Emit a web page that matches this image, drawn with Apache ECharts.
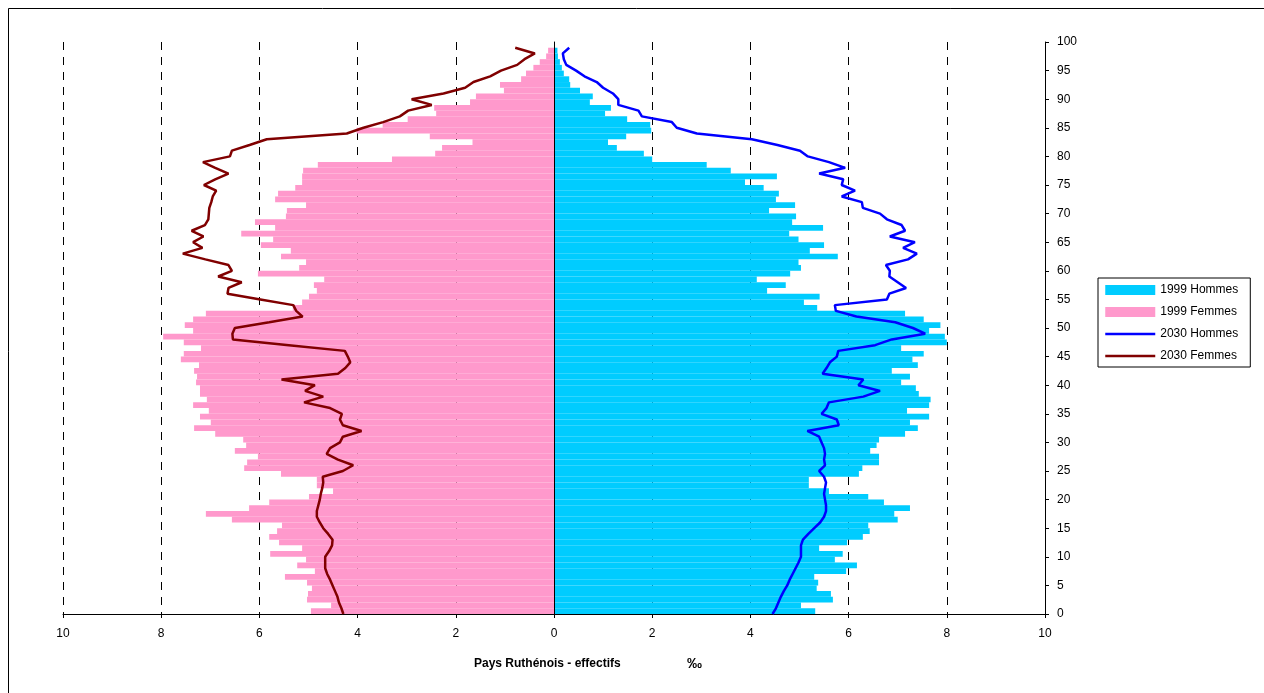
<!DOCTYPE html>
<html>
<head>
<meta charset="utf-8">
<title>Pays Ruthénois - pyramide des âges</title>
<script src="https://cdn.jsdelivr.net/npm/echarts@6/dist/echarts.min.js"></script>
<style>
  html, body { margin: 0; padding: 0; background: #fff; }
  #chart { width: 1264px; height: 693px; }
</style>
</head>
<body>
<div id="chart"></div>
<script>
// Ages 0 to 99 (one bar per year of age)
const ages = Array.from({ length: 100 }, (_, i) => i);

// 1999 population per year of age, per mille
const hommes1999 = [
  5.32, 5.03, 5.68, 5.64, 5.35, 5.38, 5.30, 5.95, 6.17, 5.72,
  5.88, 5.40, 5.97, 6.29, 6.43, 6.40, 7.00, 6.93, 7.25, 6.72,
  6.40, 5.60, 5.19, 5.19, 6.21, 6.28, 6.62, 6.62, 6.44, 6.57,
  6.62, 7.15, 7.41, 7.25, 7.64, 7.19, 7.64, 7.67, 7.43, 7.37,
  7.07, 7.25, 6.88, 7.41, 7.30, 7.53, 7.07, 8.00, 7.96, 7.64,
  7.87, 7.53, 7.15, 5.36, 5.09, 5.41, 4.34, 4.72, 4.13, 4.81,
  5.03, 4.98, 5.78, 5.21, 5.50, 4.98, 4.79, 5.48, 4.85, 4.93,
  4.38, 4.91, 4.52, 4.58, 4.27, 3.89, 4.54, 3.60, 3.11, 2.00,
  1.83, 1.28, 1.10, 1.47, 1.98, 1.96, 1.49, 1.04, 1.16, 0.73,
  0.79, 0.53, 0.33, 0.31, 0.20, 0.16, 0.12, 0.08, 0.07, 0
];
const femmes1999 = [
  4.95, 4.54, 5.03, 5.01, 4.93, 5.03, 5.48, 4.87, 5.23, 5.05,
  5.78, 5.13, 5.60, 5.80, 5.64, 5.54, 6.56, 7.09, 6.21, 5.80,
  4.99, 4.50, 4.83, 4.83, 5.56, 6.31, 6.25, 6.03, 6.50, 6.27,
  6.33, 6.90, 7.33, 6.99, 7.21, 7.03, 7.35, 7.07, 7.21, 7.21,
  7.29, 7.27, 7.33, 7.23, 7.60, 7.54, 7.19, 7.54, 7.96, 7.35,
  7.52, 7.35, 7.09, 5.32, 5.13, 4.99, 4.83, 4.89, 4.68, 6.03,
  5.19, 5.05, 5.56, 5.36, 5.97, 5.72, 6.37, 5.68, 6.09, 5.46,
  5.44, 5.05, 5.68, 5.62, 5.27, 5.13, 5.13, 5.11, 4.81, 3.30,
  2.42, 2.28, 1.66, 2.53, 4.02, 3.49, 2.98, 2.40, 2.44, 1.71,
  1.59, 1.02, 1.10, 0.67, 0.57, 0.42, 0.29, 0.16, 0.12, 0
];

// 2030 projection per year of age, per mille
const hommes2030 = [
  4.45, 4.52, 4.57, 4.62, 4.68, 4.75, 4.80, 4.86, 4.92, 4.98,
  5.03, 5.03, 5.03, 5.07, 5.18, 5.30, 5.42, 5.50, 5.54, 5.54,
  5.52, 5.50, 5.52, 5.54, 5.50, 5.40, 5.52, 5.50, 5.52, 5.50,
  5.45, 5.40, 5.16, 5.80, 5.76, 5.45, 5.55, 5.60, 6.30, 6.64,
  6.20, 6.30, 5.47, 5.55, 5.62, 5.76, 5.79, 6.54, 6.88, 7.56,
  7.31, 6.95, 6.16, 5.74, 5.72, 6.78, 6.83, 7.17, 7.00, 6.83,
  6.84, 6.76, 7.21, 7.39, 7.11, 7.35, 6.84, 7.15, 7.08, 6.78,
  6.64, 6.29, 6.27, 5.86, 6.13, 5.86, 5.89, 5.40, 5.93, 5.60,
  5.17, 5.01, 4.55, 4.03, 2.91, 2.50, 2.40, 1.79, 1.72, 1.31,
  1.31, 1.20, 1.00, 0.87, 0.62, 0.45, 0.25, 0.20, 0.18, 0.31
];
const femmes2030 = [
  4.29, 4.33, 4.38, 4.41, 4.46, 4.51, 4.56, 4.62, 4.66, 4.66,
  4.66, 4.58, 4.52, 4.51, 4.60, 4.70, 4.77, 4.83, 4.83, 4.80,
  4.77, 4.75, 4.72, 4.70, 4.71, 4.30, 4.09, 4.40, 4.63, 4.56,
  4.36, 4.30, 3.92, 4.30, 4.36, 4.32, 4.56, 5.09, 4.70, 5.07,
  4.87, 5.55, 4.40, 4.25, 4.15, 4.20, 4.26, 5.40, 6.54, 6.55,
  6.50, 5.80, 5.12, 5.25, 5.31, 5.98, 6.65, 6.63, 6.36, 6.84,
  6.56, 6.63, 7.10, 7.56, 7.16, 7.35, 7.14, 7.38, 7.11, 7.04,
  7.03, 7.02, 6.98, 6.95, 6.88, 7.13, 6.90, 6.63, 6.90, 7.15,
  6.60, 6.56, 6.20, 5.85, 4.22, 3.88, 3.48, 3.14, 2.97, 2.49,
  2.90, 2.25, 1.81, 1.64, 1.30, 1.08, 0.75, 0.60, 0.39, 0.79
];

const FONT = '"Liberation Sans", Arial, sans-serif';

const chart = echarts.init(document.getElementById('chart'), null, { renderer: 'canvas' });

chart.setOption({
  backgroundColor: '#ffffff',
  animation: false,
  textStyle: { fontFamily: FONT },
  grid: { left: 63, right: 219, top: 42, bottom: 79, containLabel: false },
  xAxis: {
    type: 'value',
    min: -10,
    max: 10,
    interval: 2,
    axisLine: { show: true, onZero: false, lineStyle: { color: '#000', width: 1 } },
    axisTick: { show: true, length: 4, lineStyle: { color: '#000' } },
    axisLabel: {
      color: '#000', fontSize: 12, fontFamily: FONT, margin: 14,
      formatter: v => String(Math.abs(v))
    },
    splitLine: { show: true, lineStyle: { color: '#000', width: 1, type: [8, 7] } }
  },
  yAxis: [
    {
      // age categories carrying the bars; its line marks the 0 separator
      type: 'category',
      data: ages,
      boundaryGap: true,
      z: 5,
      axisLine: { show: true, onZero: true, lineStyle: { color: '#000', width: 1 } },
      axisTick: { show: false },
      axisLabel: { show: false },
      splitLine: { show: false }
    },
    {
      // age scale shown on the right
      type: 'value',
      position: 'right',
      min: 0,
      max: 100,
      interval: 5,
      axisLine: { show: true, lineStyle: { color: '#000', width: 1 } },
      axisTick: { show: true, length: 4, lineStyle: { color: '#000' } },
      axisLabel: { color: '#000', fontSize: 12, fontFamily: FONT, margin: 12 },
      splitLine: { show: false }
    }
  ],
  legend: {
    orient: 'vertical',
    left: 1098,
    top: 278,
    itemWidth: 50,
    itemHeight: 10,
    itemGap: 10,
    padding: [6, 12, 5, 6],
    borderColor: '#000',
    borderWidth: 1,
    backgroundColor: '#fff',
    textStyle: { color: '#000', fontSize: 12, fontFamily: FONT },
    data: [
      { name: '1999 Hommes', icon: 'rect' },
      { name: '1999 Femmes', icon: 'rect' },
      // plain line keys, without marker
      { name: '2030 Hommes', itemStyle: { opacity: 0 }, lineStyle: { width: 2.5 } },
      { name: '2030 Femmes', itemStyle: { opacity: 0 }, lineStyle: { width: 2.5 } }
    ]
  },
  series: [
    {
      name: '1999 Hommes',
      type: 'bar',
      xAxisIndex: 0,
      yAxisIndex: 0,
      barCategoryGap: '0%',
      barGap: '-100%',
      itemStyle: { color: '#00CCFF' },
      data: hommes1999
    },
    {
      name: '1999 Femmes',
      type: 'bar',
      xAxisIndex: 0,
      yAxisIndex: 0,
      barCategoryGap: '0%',
      barGap: '-100%',
      itemStyle: { color: '#FF99CC' },
      data: femmes1999.map(v => -v)
    },
    {
      name: '2030 Hommes',
      type: 'line',
      xAxisIndex: 0,
      yAxisIndex: 1,
      symbol: 'none',
      z: 3,
      lineStyle: { color: '#0000FF', width: 2.5 },
      itemStyle: { color: '#0000FF' },
      data: hommes2030.map((v, i) => [v, ages[i]])
    },
    {
      name: '2030 Femmes',
      type: 'line',
      xAxisIndex: 0,
      yAxisIndex: 1,
      symbol: 'none',
      z: 3,
      lineStyle: { color: '#800000', width: 2.5 },
      itemStyle: { color: '#800000' },
      data: femmes2030.map((v, i) => [-v, ages[i]])
    }
  ],
  graphic: [
    {
      type: 'rect',
      silent: true,
      z: 100,
      shape: { x: 8.5, y: 8.5, width: 1300, height: 700 },
      style: { fill: 'none', stroke: '#000', lineWidth: 1 }
    },
    {
      type: 'text',
      left: 474,
      top: 658,
      style: { text: 'Pays Ruthénois - effectifs', fill: '#000', font: 'bold 12px ' + FONT }
    },
    {
      type: 'text',
      left: 687,
      top: 656,
      style: { text: '‰', fill: '#000', font: 'bold 15px ' + FONT }
    }
  ]
});
</script>
</body>
</html>
